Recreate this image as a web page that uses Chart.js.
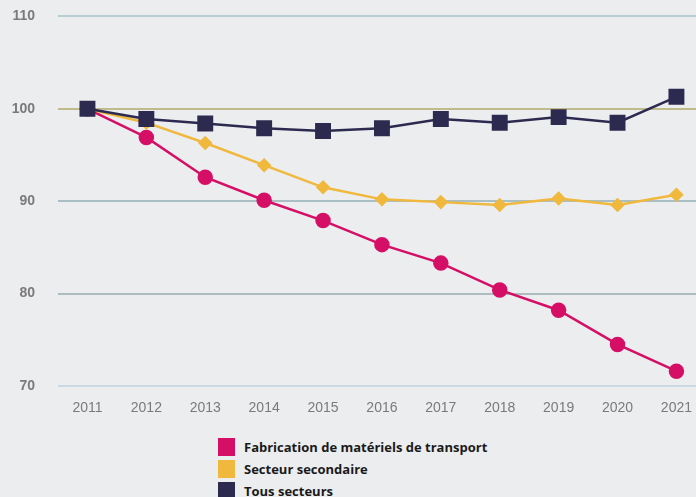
<!DOCTYPE html>
<html><head><meta charset="utf-8">
<script src="https://cdn.jsdelivr.net/npm/chart.js@4/dist/chart.umd.min.js"></script>
<style>
html,body{margin:0;padding:0;background:#ecedef;overflow:hidden;width:696px;height:497px;}
#c{position:absolute;left:0;top:-15px;}
#legend{position:absolute;left:218px;top:436px;font-family:"Open Sans",sans-serif;font-weight:700;font-size:13px;color:#1a1a1a;}
.row{display:flex;align-items:center;height:22px;}
.box{width:17px;height:18px;margin-right:9px;}
</style></head>
<body>
<canvas id="c" width="706" height="440"></canvas>
<div id="legend"></div>
<script>
const years = ['2011','2012','2013','2014','2015','2016','2017','2018','2019','2020','2021'];
const transport = [100, 96.9, 92.6, 90.1, 87.9, 85.3, 83.3, 80.4, 78.2, 74.5, 71.6];
const secondaire = [100, 98.5, 96.3, 93.9, 91.5, 90.2, 89.9, 89.6, 90.3, 89.6, 90.7];
const tous = [100, 98.9, 98.4, 97.9, 97.6, 97.9, 98.9, 98.5, 99.1, 98.5, 101.3];
const yTicks = [70, 80, 90, 100, 110];
const seriesNames = ['Fabrication de matériels de transport', 'Secteur secondaire', 'Tous secteurs'];
const colors = ['#d50f66', '#f0b83c', '#2d2a50'];
const gridColors = {70:'#cdd8e6', 80:'#aebcc0', 90:'#a9bfc3', 100:'#c0bb8c', 110:'#b9cdd0'};

const data = {
  labels: years,
  datasets: [
    {label: seriesNames[0], data: transport, borderColor: colors[0], backgroundColor: colors[0], pointStyle:'circle', pointRadius:6.5, borderWidth:2.5, order:2},
    {label: seriesNames[1], data: secondaire, borderColor: colors[1], backgroundColor: colors[1], pointStyle:'rectRot', pointRadius:5.5, borderWidth:2.5, order:1},
    {label: seriesNames[2], data: tous, borderColor: colors[2], backgroundColor: colors[2], pointStyle:'rect', pointRadius:9.5, borderWidth:2.5, order:0}
  ]
};

new Chart(document.getElementById('c'), {
  type: 'line',
  data,
  options: {
    responsive: false, animation: false,
    layout: {autoPadding: false, padding: {top: 0, right: 0, left: 0, bottom: 0}},
    plugins: {legend: {display: false}, tooltip: {enabled: false}},
    elements: {line: {tension: 0}, point: {borderWidth: 1}},
    scales: {
      x: {
        offset: true,
        grid: {display: false, drawTicks: false},
        border: {display: false},
        ticks: {color: '#7a7a7a', font: {family: 'Liberation Sans', size: 14}, padding: 14, maxRotation: 0},
        afterFit: s => { s.height = 39; }
      },
      y: {
        min: 70, max: 110,
        afterBuildTicks: s => { s.ticks = yTicks.map(v => ({value: v})); },
        grid: {drawTicks: false, lineWidth: 2, color: ctx => gridColors[ctx.tick && ctx.tick.value] || '#c0c0c0'},
        border: {display: false},
        ticks: {color: '#7a7a7a', font: {family: 'Liberation Sans', size: 14, weight: 'bold'}, padding: 23},
        afterFit: s => { s.width = 58; }
      }
    }
  }
});

const lg = document.getElementById('legend');
seriesNames.forEach((n, i) => {
  const r = document.createElement('div'); r.className = 'row';
  const b = document.createElement('div'); b.className = 'box'; b.style.background = colors[i];
  const t = document.createElement('span'); t.textContent = n;
  r.appendChild(b); r.appendChild(t); lg.appendChild(r);
});
</script>
</body></html>
